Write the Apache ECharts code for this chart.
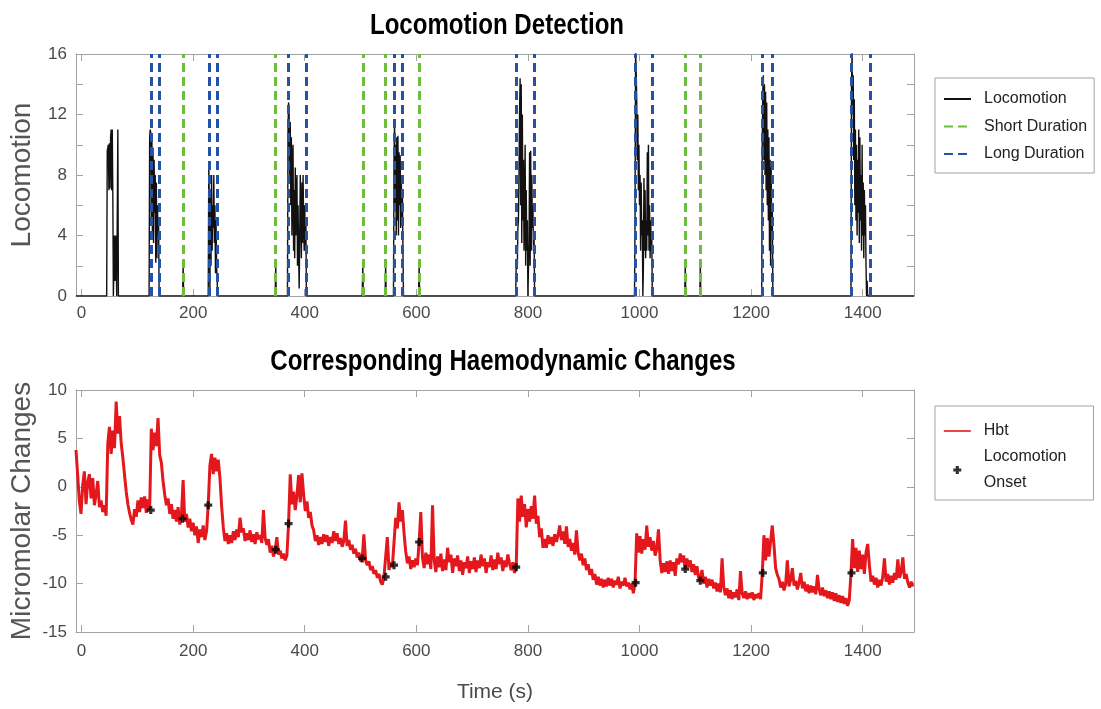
<!DOCTYPE html>
<html>
<head>
<meta charset="utf-8">
<script src="https://cdn.jsdelivr.net/npm/echarts@6/dist/echarts.min.js"></script>
<style>
  html, body { margin: 0; padding: 0; background: #ffffff; }
  #chart { width: 1101px; height: 709px; }
</style>
</head>
<body>
<div id="chart"></div>
<script>
// ---- axis ticks ----
const timeTicks = [0, 200, 400, 600, 800, 1000, 1200, 1400];
const locoTickLabels = [0, 4, 8, 12, 16];

// ---- detected locomotion events (s) ----
const shortDurationTimes = [182, 348, 504, 545, 605, 1082, 1109];
const longDurationTimes = [124, 139, 229, 243, 371, 402, 560, 574, 779, 812, 992, 1023, 1220, 1238, 1380, 1413];

// ---- locomotion bouts: start time (s) and 1-s samples ----
const boutStarts = [45, 121, 181, 227, 347, 369, 503, 544, 559, 604, 778, 991, 1081, 1108, 1219, 1379];
const boutValues = [
  [0, 9.6, 9.8, 10, 7, 10.1, 7.1, 10.5, 11, 7, 11, 6.8, 0, 0, 4, 1, 4, 2.5, 0, 0, 11, 0],
  [0, 10.5, 11, 10.8, 5, 10.6, 4, 9.8, 3.5, 9, 5.5, 8, 2.2, 7.5, 2.5, 6, 4, 5, 0],
  [0, 2, 0],
  [0, 8.6, 6, 0.5, 6.5, 2, 8, 3, 6, 4.5, 8, 3.5, 6, 1.5, 5, 2, 1, 0],
  [0, 2, 0],
  [0, 11, 12.8, 12, 8, 11.5, 6, 10.5, 4, 9, 10, 3, 7, 2.5, 8.5, 4, 7, 8, 2, 6, 3, 0.5, 4, 8, 5, 2.5, 7.5, 3.5, 8, 5, 3, 6, 3, 5, 0],
  [0, 2, 0],
  [0, 2, 0],
  [0, 9, 11.7, 6, 10, 4, 10.5, 5, 10.6, 4, 9.5, 6, 9.3, 4.5, 8, 5, 7, 3, 0],
  [0, 2, 0],
  [0, 2, 2, 1.8, 4.5, 5, 8, 12, 14.4, 6, 14, 3.5, 12, 5, 9, 3, 5.5, 10, 2, 7, 3, 5, 0, 0, 3.5, 9.5, 2, 9.6, 3, 8, 4.5, 6, 3, 4, 0],
  [0, 5, 16.2, 15, 13, 9, 12, 7, 10, 6, 8, 3, 7.5, 4, 5, 0, 2, 7.8, 3, 7, 2.5, 5, 3, 9.5, 4, 10, 3, 6, 2.5, 5, 3, 4, 0],
  [0, 2, 0],
  [0, 2, 0],
  [0, 10, 13.5, 14.6, 9, 14, 8, 13.5, 7, 12.8, 6, 11, 5, 10.5, 3, 9, 2, 8.5, 4, 6, 0],
  [0, 14, 16.2, 12, 14.6, 9, 13, 6, 11, 5, 10, 4, 9, 5.5, 11, 3.5, 10.5, 5, 8, 3, 10, 4, 7.5, 2.5, 7, 4, 6, 2, 0, 1, 0]
];

// ---- total haemoglobin (micromolar), sampled every 3 s from t = -10 s ----
const hbtStart = -10;
const hbtStep = 3;
const hbtValues = [
  3.8, 1.2, -1.5, -2.8, 0.2, 1.6, -1.8, 0.5, 1.3, -1.2, 0.9, -1.9, -0.8, 0.6, -2.1, -1.4, -2.6, -1.9, -3.0, 4.5,
  6.2, 3.4, 5.8, 4.0, 8.8, 5.5, 7.3, 4.5, 3.0, 1.2, -0.5, -1.8, -2.7, -3.4, -3.9, -2.3, -3.1, -1.4, -2.6, -1.1,
  -2.2, -1.0, -2.7, -1.3, -2.4, 6.0, 3.8, 5.6, 4.2, 7.1, 3.3, 2.5, 0.6, -0.8, -1.9, -1.2, -2.8, -1.8, -3.3, -2.4,
  -3.6, -2.1, -3.9, -2.9, 0.7, -3.6, -2.8, -4.2, -3.3, -4.6, -3.7, -5.0, -4.1, -5.8, -4.4, -5.2, -4.0, -5.5, -4.6, -1.9,
  2.2, 3.4, 1.3, 3.0, 1.6, 2.8, 0.9, -2.0, -4.2, -5.6, -4.8, -5.9, -5.0, -5.8, -4.6, -5.5, -4.4, -5.2, -3.2, -4.7,
  -4.3, -5.6, -4.8, -5.5, -4.5, -5.7, -4.9, -5.9, -4.7, -5.4, -5.0, -5.8, -2.4, -5.3, -6.0, -5.4, -6.8, -6.1, -7.2, -6.5,
  -5.2, -7.0, -6.6, -7.4, -6.9, -7.6, -7.1, -3.8, 1.3, -1.8, -0.5, -2.4, -0.9, 1.2, -1.6, 1.4, -0.8, -2.5, -1.5, -3.2,
  -2.6, -4.0, -4.5, -5.6, -5.0, -6.0, -5.2, -5.9, -4.9, -5.7, -5.0, -6.1, -5.2, -5.8, -4.6, -5.6, -4.8, -5.9, -5.3, -6.2,
  -5.6, -3.5, -6.1, -5.5, -6.5, -6.0, -6.9, -6.4, -7.3, -6.8, -7.7, -7.4, -4.9, -7.6, -8.1, -7.7, -8.6, -8.2, -9.0, -8.6,
  -9.4, -9.0, -9.8, -10.1, -9.3, -9.3, -5.2, -8.6, -7.8, -8.3, -8.1, -3.2, -4.3, -1.6, -3.6, -2.4, -4.8, -6.7, -7.9, -7.2,
  -8.5, -7.6, -8.3, -7.4, -8.1, -5.7, -2.6, -7.3, -8.4, -6.8, -8.0, -7.0, -8.5, -1.9, -7.6, -8.8, -7.2, -8.3, -6.9, -8.7,
  -7.5, -8.6, -6.3, -7.8, -7.0, -8.9, -7.4, -8.2, -7.1, -8.7, -7.6, -9.1, -7.8, -8.4, -7.2, -8.9, -7.7, -8.5, -7.3, -8.8,
  -7.6, -8.4, -7.0, -8.2, -7.4, -8.9, -7.8, -8.3, -7.1, -8.6, -7.5, -8.5, -6.8, -8.0, -7.3, -8.7, -7.6, -8.3, -7.0, -7.9,
  -8.6, -7.8, -8.9, -8.3, -1.2, -3.6, -0.9, -3.1, -1.8, -4.2, -2.3, -3.6, -2.0, -3.3, -0.9, -3.8, -3.0, -5.2, -4.3, -6.3,
  -5.4, -6.3, -5.0, -5.9, -5.2, -6.1, -4.9, -5.7, -5.0, -4.0, -5.5, -4.6, -5.9, -4.1, -6.2, -5.4, -6.6, -5.8, -7.0, -4.5,
  -6.8, -7.6, -6.9, -8.1, -7.4, -8.6, -8.0, -9.1, -8.5, -9.6, -9.0, -10.1, -9.3, -10.2, -9.5, -10.4, -9.6, -10.3, -9.4, -10.2,
  -9.5, -10.4, -9.7, -10.1, -9.3, -10.5, -9.8, -10.2, -9.4, -10.3, -9.9, -10.6, -10.0, -11.0, -9.9, -4.8, -6.8, -5.1, -6.9, -5.4,
  -6.5, -4.0, -6.2, -5.2, -6.6, -5.6, -7.1, -6.4, -4.4, -7.6, -8.9, -7.9, -8.8, -7.7, -9.0, -7.6, -8.7, -7.8, -9.2, -7.4,
  -8.0, -6.9, -7.8, -7.1, -8.5, -7.4, -8.3, -7.6, -8.8, -8.0, -9.1, -8.2, -9.4, -9.7, -8.6, -10.0, -9.3, -10.4, -9.5, -10.2,
  -9.6, -10.5, -9.9, -10.8, -10.0, -10.9, -7.4, -10.4, -11.2, -10.5, -11.5, -10.7, -11.6, -10.9, -11.4, -10.6, -11.7, -8.7, -11.0, -11.5,
  -10.8, -11.6, -11.0, -11.5, -10.9, -11.7, -11.1, -11.5, -11.0, -11.6, -9.0, -5.0, -7.6, -5.3, -7.2, -5.6, -4.0, -6.0, -8.4, -9.1,
  -9.5, -10.4, -9.8, -10.7, -10.0, -7.6, -10.3, -9.6, -8.4, -10.2, -9.7, -10.6, -9.9, -8.9, -10.5, -9.8, -10.8, -10.1, -11.0, -10.2,
  -10.9, -10.3, -11.1, -9.1, -10.6, -11.2, -10.4, -11.3, -10.7, -11.5, -10.8, -11.6, -10.9, -11.8, -11.0, -11.9, -11.2, -12.0, -11.3, -12.1,
  -11.5, -12.3, -11.7, -9.0, -5.4, -8.4, -6.3, -8.8, -6.6, -8.5, -7.0, -9.0, -6.8, -5.9, -8.1, -9.8, -9.2, -10.1, -9.4, -10.4,
  -9.6, -10.2, -9.3, -7.4, -9.8, -9.0, -10.1, -9.2, -9.9, -8.9, -9.6, -7.5, -9.4, -8.8, -7.3, -9.5, -9.0, -9.9, -10.4, -9.8, -10.3
];

// ---- locomotion onset markers ----
const onsetTimes = [124, 181, 227, 348, 371, 503, 545, 560, 605, 779, 993, 1082, 1109, 1221, 1380];
const onsetValues = [-2.4, -3.3, -1.9, -6.5, -3.8, -7.4, -9.3, -8.1, -5.7, -8.3, -9.9, -8.5, -9.7, -8.9, -8.9];

// ---- panel titles ----
const topTitle = 'Locomotion Detection';
const bottomTitle = 'Corresponding Haemodynamic Changes';

// ---- build series data ----
const timeMin = -10, timeMax = 1492;
const locomotionPoints = [[timeMin, 0]];
boutStarts.forEach((start, i) => {
  boutValues[i].forEach((v, j) => locomotionPoints.push([start + j, v]));
});
locomotionPoints.push([timeMax, 0]);

const hbtPoints = hbtValues.map((v, i) => [hbtStart + i * hbtStep, v]);
const onsetPoints = onsetTimes.map((t, i) => [t, onsetValues[i]]);

const SANS = "'Liberation Sans', Arial, sans-serif";
const BOX = '#a3a3a3';
const TICK_TXT = '#4a4a4a';
const GREEN = '#6cbf3a';
const BLUE = '#2452a6';
const RED = '#e4171d';
const CLEAR = 'rgba(0,0,0,0)';
const PLUS = 'path://M3,0H7V3H10V7H7V10H3V7H0V3H3Z';

function plainNumber(v) { return String(v); }

function timeAxis(gridIndex, position, labels, name, margin) {
  return {
    type: 'value', gridIndex, position, min: timeMin, max: timeMax,
    name: name || '', nameLocation: 'middle', nameGap: 50, nameMoveOverlap: false,
    nameTextStyle: { fontFamily: SANS, fontSize: 21, color: '#4a4a4a' },
    axisLine: { show: true, onZero: false, lineStyle: { color: BOX, width: 1 } },
    axisTick: { show: true, inside: true, length: 7, customValues: timeTicks, lineStyle: { color: BOX } },
    axisLabel: { show: labels, customValues: timeTicks, formatter: plainNumber, margin: margin || 9,
      fontFamily: SANS, fontSize: 17, color: TICK_TXT },
    splitLine: { show: false }
  };
}
function valueAxis(gridIndex, position, cfg) {
  return Object.assign({
    type: 'value', gridIndex, position,
    nameLocation: 'middle', nameGap: 40, nameMoveOverlap: false,
    nameTextStyle: { fontFamily: SANS, fontSize: 28, color: '#555555' },
    axisLine: { show: true, onZero: false, lineStyle: { color: BOX, width: 1 } },
    axisTick: { show: true, inside: true, length: 7, lineStyle: { color: BOX } },
    axisLabel: { show: position === 'left', formatter: plainNumber, margin: 9,
      fontFamily: SANS, fontSize: 17, color: TICK_TXT },
    splitLine: { show: false }
  }, cfg);
}

function titleText(text, x, y) {
  return {
    type: 'text', x, y, scaleX: 0.83, silent: true,
    style: { text, x: 0, y: 0, align: 'center', verticalAlign: 'middle',
      fontFamily: SANS, fontWeight: 'bold', fontSize: 29, fill: '#000' }
  };
}

const chart = echarts.init(document.getElementById('chart'), null, { renderer: 'canvas' });
chart.setOption({
  animation: false,
  backgroundColor: '#ffffff',
  graphic: [
    titleText(topTitle, 497, 26),
    titleText(bottomTitle, 503, 362)
  ],
  grid: [
    { left: 76, right: 187, top: 54, height: 242, outerBoundsMode: 'none' },
    { left: 76, right: 187, top: 390, height: 242, outerBoundsMode: 'none' }
  ],
  xAxis: [
    timeAxis(0, 'bottom', true),
    timeAxis(0, 'top', false),
    timeAxis(1, 'bottom', true, 'Time (s)', 11),
    timeAxis(1, 'top', false)
  ],
  yAxis: [
    valueAxis(0, 'left', { min: 0, max: 16, interval: 2, name: 'Locomotion',
      axisLabel: { customValues: locoTickLabels, formatter: plainNumber, margin: 9,
        fontFamily: SANS, fontSize: 17, color: TICK_TXT } }),
    valueAxis(0, 'right', { min: 0, max: 16, interval: 2 }),
    valueAxis(1, 'left', { min: -15, max: 10, interval: 5, name: 'Micromolar Changes' }),
    valueAxis(1, 'right', { min: -15, max: 10, interval: 5 })
  ],
  legend: [
    { data: ['Locomotion', 'Short Duration', 'Long Duration'],
      orient: 'vertical', left: 935, top: 78, padding: [11, 7, 9, 8],
      itemWidth: 27, itemHeight: 10, itemGap: 7.5, selectedMode: false,
      borderColor: BOX, borderWidth: 1, backgroundColor: '#ffffff',
      textStyle: { fontFamily: SANS, fontSize: 16, lineHeight: 20, color: '#222', padding: [0, 0, 0, 8] } },
    { data: ['Hbt', 'Locomotion Onset'],
      orient: 'vertical', left: 935, top: 406, padding: [12, 27, 4, 8],
      itemWidth: 27, itemHeight: 8, itemGap: 0, selectedMode: false,
      borderColor: BOX, borderWidth: 1, backgroundColor: '#ffffff',
      lineStyle: { width: 1.6 },
      formatter: name => name.replace(' ', '\n'),
      textStyle: { fontFamily: SANS, fontSize: 16, lineHeight: 26, color: '#222', padding: [0, 0, 0, 8] } }
  ],
  series: [
    { name: 'Locomotion', type: 'line', xAxisIndex: 0, yAxisIndex: 0, z: 2,
      data: locomotionPoints, symbol: 'none',
      lineStyle: { color: '#111', width: 1.4 }, itemStyle: { color: CLEAR } },
    { name: 'Short Duration', type: 'line', xAxisIndex: 0, yAxisIndex: 0, z: 3,
      data: [], symbol: 'none',
      lineStyle: { color: GREEN, width: 3, type: [9, 5] }, itemStyle: { color: CLEAR },
      markLine: { silent: true, symbol: 'none', label: { show: false },
        lineStyle: { color: GREEN, width: 3, type: [9, 5] },
        data: shortDurationTimes.map(t => ({ xAxis: t })) } },
    { name: 'Long Duration', type: 'line', xAxisIndex: 0, yAxisIndex: 0, z: 3,
      data: [], symbol: 'none',
      lineStyle: { color: BLUE, width: 3, type: [9, 5] }, itemStyle: { color: CLEAR },
      markLine: { silent: true, symbol: 'none', label: { show: false },
        lineStyle: { color: BLUE, width: 3, type: [9, 5] },
        data: longDurationTimes.map(t => ({ xAxis: t })) } },
    { name: 'Hbt', type: 'line', xAxisIndex: 2, yAxisIndex: 2, z: 2,
      data: hbtPoints, symbol: 'none',
      lineStyle: { color: RED, width: 3 }, itemStyle: { color: CLEAR } },
    { name: 'Locomotion Onset', type: 'scatter', xAxisIndex: 2, yAxisIndex: 2, z: 4,
      data: onsetPoints, symbol: PLUS, symbolSize: 8, symbolKeepAspect: true,
      itemStyle: { color: '#000' } }
  ]
});
</script>
</body>
</html>
